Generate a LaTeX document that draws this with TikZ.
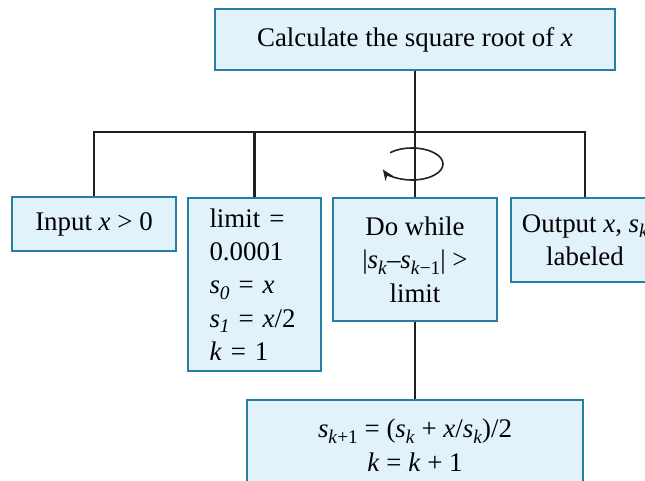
\documentclass[tikz,border=0pt]{standalone}
\usepackage{fontspec}
\setmainfont{Liberation Serif}
\usepackage{tikz}
\usetikzlibrary{arrows.meta, calc}

\definecolor{boxfill}{RGB}{225,242,250}
\definecolor{boxline}{RGB}{40,125,165}
\definecolor{wire}{RGB}{35,31,32}

\newcommand{\sv}[1]{\textit{s}\raisebox{-0.45ex}{\fontsize{11}{11}\selectfont #1}}

\begin{document}
\begin{tikzpicture}[font=\fontsize{15.3}{19}\selectfont,
    stepbox/.style={draw=boxline, fill=boxfill, line width=0.8pt,
                    inner sep=2pt, align=center},
    link/.style={wire, line width=1.4pt},
    spin/.style={-{Stealth[length=2.2mm, width=1.8mm]}, wire, line width=0.9pt}]

    \useasboundingbox (0,0) rectangle (12.9,-9.6);
    \clip (0,0) rectangle (12.9,-9.6);

    \node[stepbox, minimum width=8cm, minimum height=1.22cm] (top) at (8.3,-0.79)
      {Calculate the square root of \textit{x}};
    \node[stepbox, minimum width=3.28cm, minimum height=1.08cm] (inp) at (1.88,-4.48)
      {Input \textit{x} > 0};
    \node[stepbox, minimum width=2.66cm, minimum height=3.46cm,
          text width=1.8cm, align=left] (lim) at (5.09,-5.69)
      {limit =\\0.0001\\\sv{\textit{0}} = \textit{x}\\\sv{\textit{1}} = \textit{x}/2\\\textit{k} = 1};
    \node[stepbox, minimum width=3.28cm, minimum height=2.46cm] (loop) at (8.3,-5.19)
      {Do while\\|\sv{\textit{k}}–\sv{\textit{k}−1}| >\\limit};
    \node[stepbox, minimum width=2.96cm, minimum height=1.68cm] (out) at (11.7,-4.8)
      {Output \textit{x}, \sv{\textit{k}}\\labeled};
    \node[stepbox, minimum width=6.72cm, minimum height=1.8cm] (upd) at (8.3,-8.9)
      {\sv{\textit{k}+1} = (\sv{\textit{k}} + \textit{x}/\sv{\textit{k}})/2\\\textit{k} = \textit{k} + 1};

    % tree wiring
    \coordinate (bus) at (0,-2.64);
    \draw[link] (inp.north) -- (inp.north |- bus) -- (out.north |- bus) -- (out.north);
    \draw[link] (lim.north) -- (lim.north |- bus);
    \draw[link] (top.south) -- (loop.north);
    \draw[link] (loop.south) -- (upd.north);

    % repeat symbol
    \coordinate (turn) at (8.24,-3.28);
    \draw[spin] ([shift={(135:0.62cm and 0.32cm)}]turn)
      arc[start angle=135, end angle=-160, x radius=0.62cm, y radius=0.32cm];
\end{tikzpicture}
\end{document}
